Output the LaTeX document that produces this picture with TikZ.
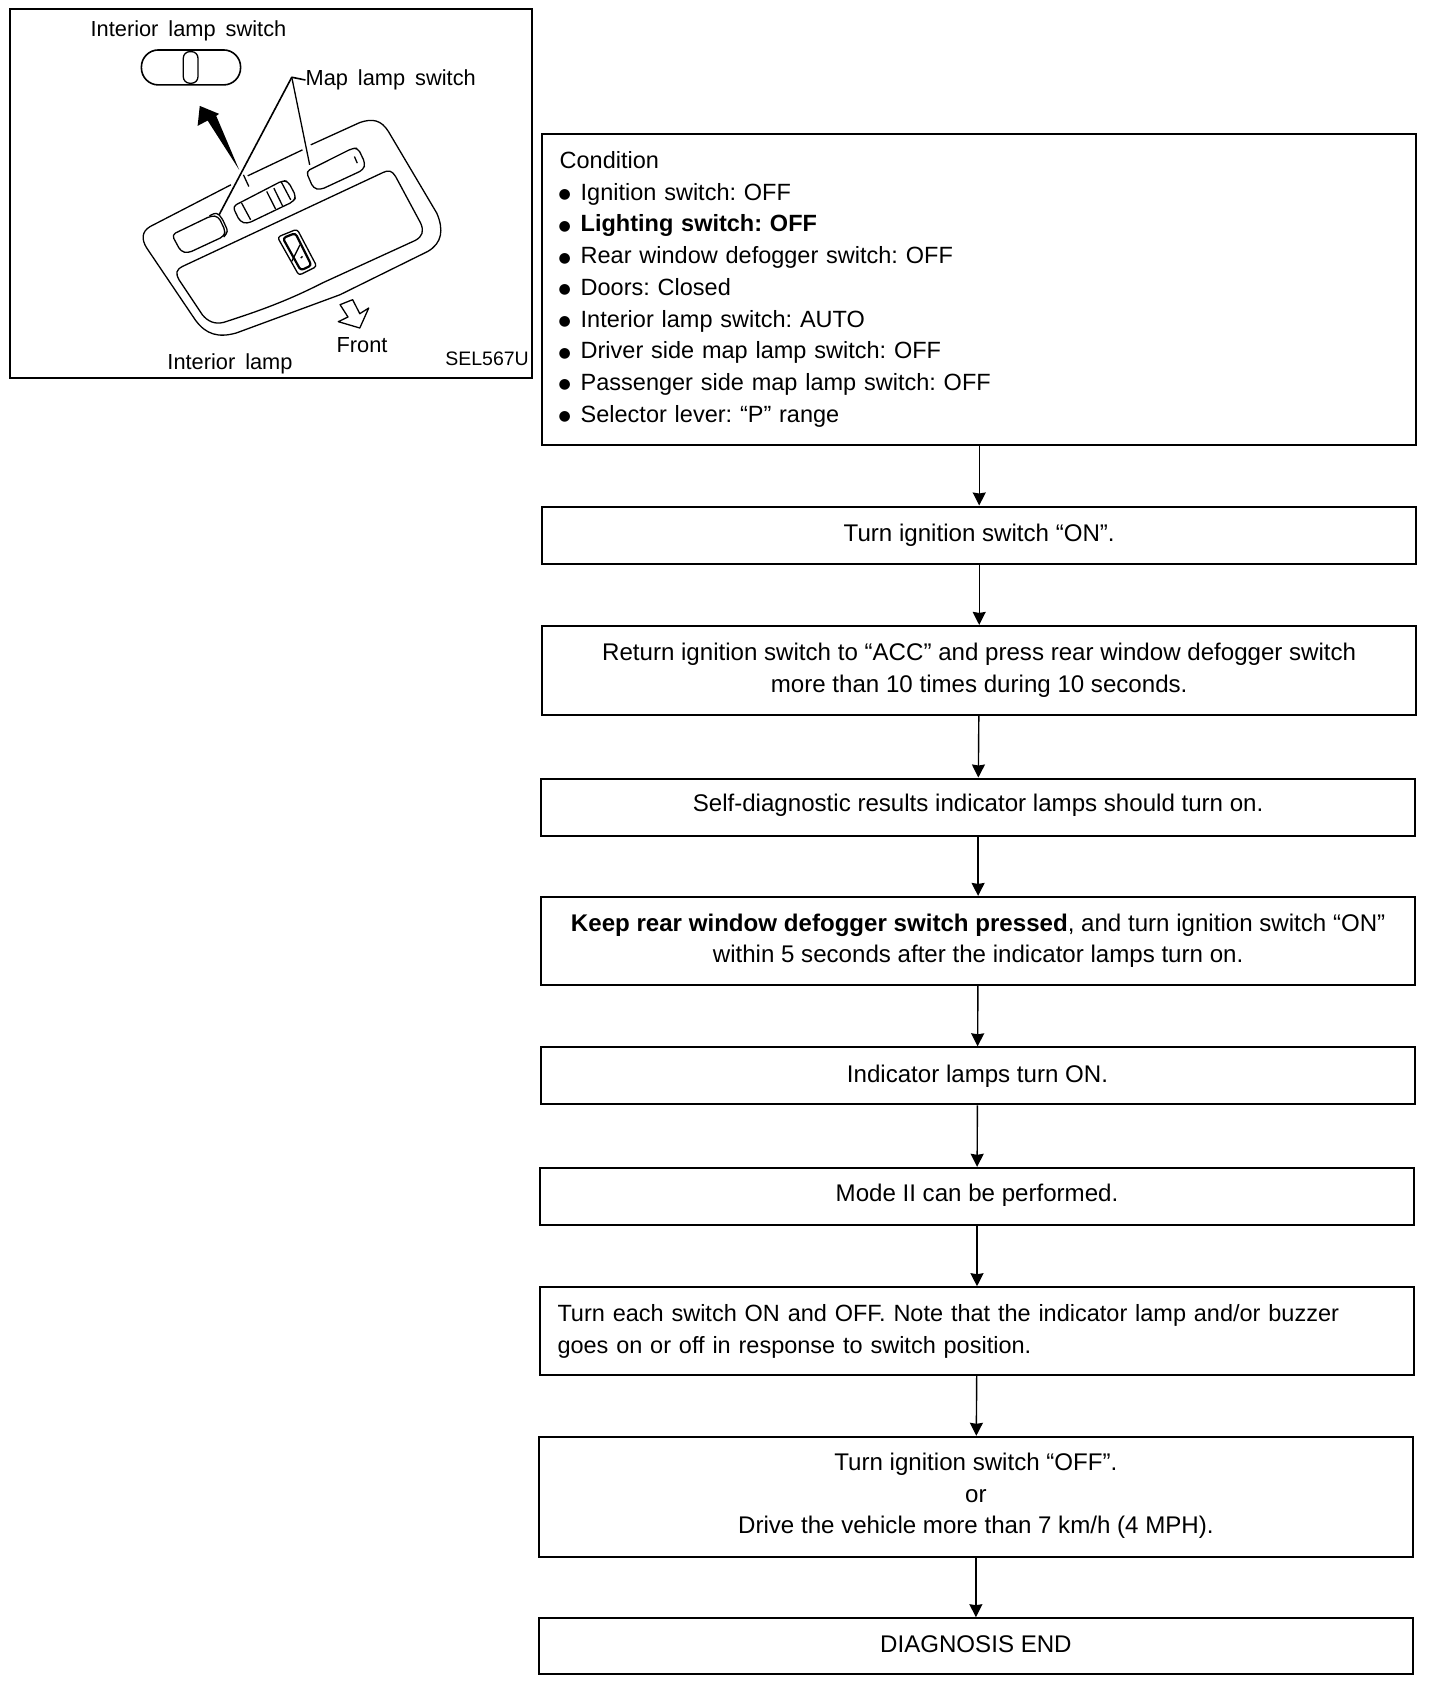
\documentclass[tikz,border=0pt]{standalone}
\usepackage{fontspec}
\setmainfont{Liberation Sans}
\newfontfamily\bulfont{DejaVu Sans}
\usetikzlibrary{arrows.meta}
\newcommand{\bul}{\makebox[21pt][l]{\hspace{-1pt}\raisebox{1.5pt}{\fontsize{14}{14}\bulfont ●}}}
\newcommand{\panelfont}{\fontsize{21.8}{26}\selectfont\spaceskip=10pt\relax}
\tikzset{
    stepbox/.style = {draw, line width = 2pt, minimum width = 874pt, inner sep = 0pt, align = center,
        font = \fontsize{24.1}{31.7}\selectfont\frenchspacing},
    listfont/.style = {font = \fontsize{23.5}{31.7}\selectfont\frenchspacing},
    flow/.style = {line width = 1.4pt, -{Stealth[length = 13pt, width = 13pt, inset = 1pt]}},
    lamp/.style = {line width = 1.3pt, line join = round},
    panel/.style = {inner sep = 0pt, font = \panelfont}
}
\begin{document}
\begin{tikzpicture}[x = 1pt, y = -1pt]
    \useasboundingbox (0,0) rectangle (1440,1684);
    % flow chart
    \node[stepbox, listfont, minimum height = 311pt, text width = 839pt, align = left] (cond) at (979.2,289.3) {Condition\\
        \bul Ignition switch: OFF\\
        \bul \textbf{Lighting switch: OFF}\\
        \bul Rear window defogger switch: OFF\\
        \bul Doors: Closed\\
        \bul Interior lamp switch: AUTO\\
        \bul Driver side map lamp switch: OFF\\
        \bul Passenger side map lamp switch: OFF\\
        \bul Selector lever: “P” range\par\vspace{2pt}};
    \node[stepbox, minimum height = 57pt] (ignon) at (979.2,535) {Turn ignition switch “ON”.};
    \node[stepbox, minimum height = 89pt] (ret) at (979.2,670.4) {Return ignition switch to “ACC” and press rear window defogger switch\\more than 10 times during 10 seconds.};
    \node[stepbox, minimum height = 57pt, text depth = 8pt] (self) at (978.1,807) {Self-diagnostic results indicator lamps should turn on.};
    \node[stepbox, minimum height = 88pt] (keep) at (978.1,940.9) {\textbf{Keep rear window defogger switch pressed}, and turn ignition switch “ON”\\within 5 seconds after the indicator lamps turn on.};
    \node[stepbox, minimum height = 57pt] (lamps) at (977.5,1075.8) {Indicator lamps turn ON.};
    \node[stepbox, minimum height = 57pt, text depth = 8pt] (mode) at (977,1196.3) {Mode II can be performed.};
    \node[stepbox, listfont, minimum height = 88pt, text width = 839pt, align = left] (each) at (977,1331.2) {Turn each switch ON and OFF. Note that the indicator lamp and/or buzzer\\goes on or off in response to switch position.\par\vspace{3pt}};
    \node[stepbox, minimum height = 120pt, text depth = 7pt] (off) at (975.9,1496.8) {Turn ignition switch “OFF”.\\or\\Drive the vehicle more than 7 km/h (4 MPH).};
    \node[stepbox, minimum height = 56pt, text depth = 5pt] (end) at (975.9,1646.2) {DIAGNOSIS END};
    \foreach \a/\b in {cond/ignon, ignon/ret, ret/self, self/keep, keep/lamps, lamps/mode, mode/each, each/off, off/end}
        \draw[flow] (\a) -- (\b);
    % interior lamp panel
    \draw[line width = 2pt] (10,9) rectangle (532,378);
    \node[panel] (switchlabel) at (188.5,31) {Interior lamp switch};
    \node[panel, anchor = west] (maplabel) at (305.4,80) {Map lamp switch};
    \node[panel] (frontlabel) at (362,345) {Front};
    \node[panel] (lamplabel) at (230,364) {Interior lamp};
    \node[panel, anchor = east, font = \fontsize{19.5}{24}\selectfont] (partlabel) at (529,359) {SEL567U};
    \begin{scope}[x = 0.358pt, y = -0.333pt]
        \draw[lamp, line width = 1.6pt, rounded corners = 17pt] (395,150) rectangle (672,255);
        \draw[lamp, rounded corners = 6.5pt] (512,155) rectangle (553,250);
        \coordinate (mapjoin) at (815,232);
        \coordinate (mapleft) at (612,645);
        \coordinate (mapright) at (865,495);
        \draw[lamp, line width = 1.6pt] (maplabel.west) -- (mapjoin) -- (mapleft);
        \draw[lamp] (mapjoin) -- (mapright);
        \fill (558,318) -- (612,342) -- (604,348) -- (668,510) -- (580,362) -- (552,378) -- cycle;
        \draw[lamp] (645,555) -- (420,680) .. controls (395,695) and (395,720) .. (410,745) -- (545,960) .. controls (575,1005) and (610,1015) .. (660,1000) -- (950,885) -- (1195,755) .. controls (1235,730) and (1240,690) .. (1220,640) -- (1085,395) .. controls (1065,360) and (1040,355) .. (1005,368) -- (868,435);
        \draw[lamp] (845,450) -- (692,528);
        \draw[lamp] (680,525) -- (695,560);
        \draw[lamp] (510,800) -- (1070,518) .. controls (1085,510) and (1095,512) .. (1105,530) -- (1175,670) .. controls (1185,695) and (1180,710) .. (1160,722) -- (900,850) .. controls (800,905) and (720,935) .. (625,968) .. controls (600,975) and (580,965) .. (565,945) -- (500,840) .. controls (490,820) and (492,810) .. (510,800) -- cycle;
        % map lamp switches
        \draw[lamp, rounded corners = 4pt] (480,705) -- (590,648) -- (610,650) -- (630,695) -- (625,710) -- (525,760) -- (505,755) -- cycle;
        \draw[lamp, rounded corners = 3pt] (585,648) -- (605,638) -- (620,655) -- (637,695) -- (625,712);
        \draw[lamp, rounded corners = 4pt] (855,515) -- (985,445) -- (1000,445) -- (1020,490) -- (1015,510) -- (895,570) -- (875,565) -- cycle;
        \draw[lamp] (990,470) -- (998,490);
        % centre switch
        \draw[lamp, rounded corners = 4pt] (650,620) -- (790,542) -- (805,545) -- (827,590) -- (820,605) -- (690,672) -- (670,665) -- cycle;
        \draw[lamp] (675,610) -- (700,660);
        \draw[lamp] (745,575) -- (770,628);
        \draw[lamp] (765,565) -- (790,620);
        \draw[lamp] (785,545) -- (812,600);
        % rocker
        \draw[lamp, rounded corners = 3pt] (775,712) -- (830,688) -- (885,800) -- (835,827) -- cycle;
        \draw[lamp, line width = 2.2pt, rounded corners = 3pt] (790,715) -- (825,700) -- (870,797) -- (840,812) -- cycle;
        \draw[lamp] (838,735) -- (815,785);
        \draw[lamp] (840,775) -- (845,770);
        % front arrow
        \draw[lamp] (950,915) -- (985,900) -- (1005,942) -- (1030,925) -- (1005,985) -- (945,966) -- (972,952) -- cycle;
    \end{scope}
\end{tikzpicture}
\end{document}
